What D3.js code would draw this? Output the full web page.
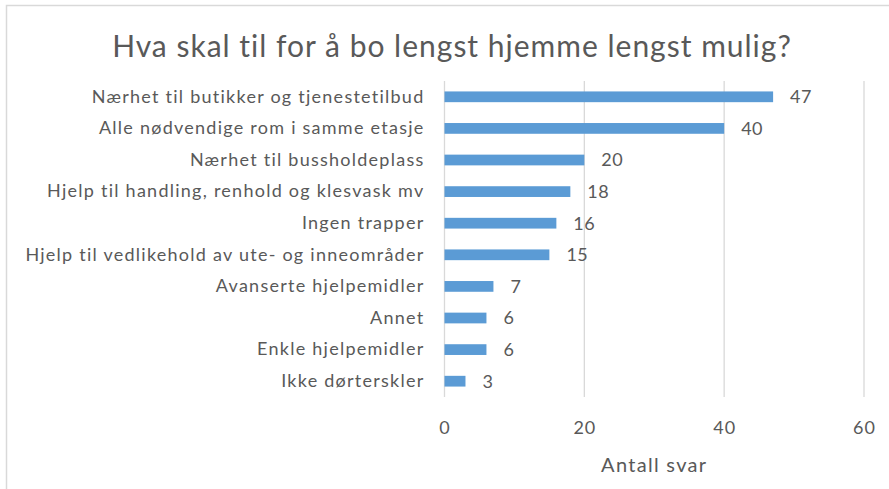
<!DOCTYPE html>
<html>
<head>
<meta charset="utf-8">
<script src="https://cdn.jsdelivr.net/npm/d3@7"></script>
<style>
  body { margin: 0; background: #fff; }
  text { font-family: Lato, "Open Sans", sans-serif; fill: #595959; }
</style>
</head>
<body>
<div id="chart"></div>
<script>
// data
var categories = [
    "Nærhet til butikker og tjenestetilbud",
    "Alle nødvendige rom i samme etasje",
    "Nærhet til bussholdeplass",
    "Hjelp til handling, renhold og klesvask mv",
    "Ingen trapper",
    "Hjelp til vedlikehold av ute- og inneområder",
    "Avanserte hjelpemidler",
    "Annet",
    "Enkle hjelpemidler",
    "Ikke dørterskler"
]
var values = [47, 40, 20, 18, 16, 15, 7, 6, 6, 3]
var xTicks = [0, 20, 40, 60]
var title = "Hva skal til for å bo lengst hjemme lengst mulig?"
var xTitle = "Antall svar"

width = 889
height = 489
var margin = { top: 81, right: 25, bottom: 92, left: 444.5 }

var svg = d3.select("#chart").append("svg")
    .attr("width", width).attr("height", height);

// chart frame (only top and left edges are inside the picture)
svg.append("rect")
    .attr("x", 6.5).attr("y", 5.5)
    .attr("width", width + 20).attr("height", height + 20)
    .attr("fill", "none")
    .attr("stroke", "#d9d9d9")
    .attr("stroke-width", 1.5)

var x = d3.scaleLinear()
    .domain([0, 60])
    .range([margin.left, width - margin.right]);

var y = d3.scaleBand()
    .domain(categories)
    .range([margin.top, height - margin.bottom])
    .paddingInner(0.66)
    .paddingOuter(0.33);

// gridlines
svg.append("g")
    .selectAll("line")
    .data(xTicks)
    .enter()
    .append("line")
    .attr("x1", d => x(d)).attr("x2", d => x(d))
    .attr("y1", margin.top).attr("y2", height - margin.bottom)
    .attr("stroke", "#d9d9d9")
    .attr("stroke-width", 1.3)

// bars
svg.append("g")
    .selectAll("rect")
    .data(values)
    .enter()
    .append("rect")
    .attr("x", x(0))
    .attr("y", (d, i) => y(categories[i]))
    .attr("width", d => x(d) - x(0))
    .attr("height", y.bandwidth())
    .attr("fill", "#5b9bd5")

// value labels
svg.append("g")
    .selectAll("text")
    .data(values)
    .enter()
    .append("text")
    .attr("x", d => x(d) + 17)
    .attr("y", (d, i) => y(categories[i]) + y.bandwidth() / 2)
    .attr("dy", "0.36em")
    .style("font-size", "18px")
    .style("letter-spacing", "0.5px")
    .text(d => d)

// category axis
var yAxis = svg.append("g")
    .attr("transform", "translate(" + (margin.left - 20) + ",0)")
    .call(d3.axisLeft(y).tickSize(0).tickPadding(0));
yAxis.select(".domain").remove();
yAxis.selectAll("text")
    .style("font-size", "18px")
    .style("font-family", "Lato, sans-serif")
    .style("letter-spacing", "1.25px")
    .attr("fill", "#595959")

// value axis
var xAxis = svg.append("g")
    .attr("transform", "translate(0," + (height - margin.bottom) + ")")
    .call(d3.axisBottom(x).tickValues(xTicks).tickSize(0).tickPadding(24));
xAxis.select(".domain").remove();
xAxis.selectAll("text")
    .style("font-size", "18px")
    .style("font-family", "Lato, sans-serif")
    .style("letter-spacing", "1px")
    .attr("fill", "#595959")

// axis title
svg.append("text")
    .attr("x", (x(0) + x(60)) / 2)
    .attr("y", 472)
    .attr("text-anchor", "middle")
    .style("font-size", "20px")
    .style("letter-spacing", "1.3px")
    .text(xTitle)

// chart title
svg.append("text")
    .attr("x", 452)
    .attr("y", 57)
    .attr("text-anchor", "middle")
    .style("font-size", "30px")
    .style("letter-spacing", "1px")
    .text(title)
</script>
</body>
</html>
